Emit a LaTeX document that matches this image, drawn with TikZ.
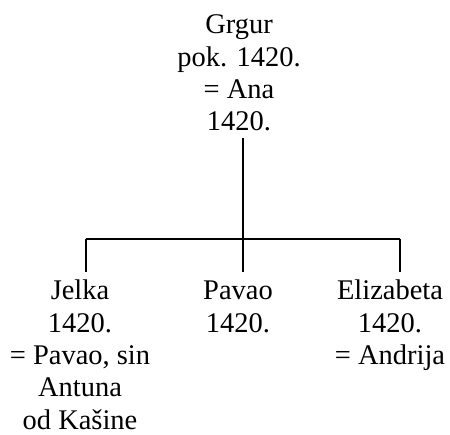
\documentclass[tikz,border=0pt]{standalone}
\usepackage{fontspec}
\setmainfont{Liberation Serif}
\usetikzlibrary{positioning}

\begin{document}
\begin{tikzpicture}[x=0.2mm, y=-0.2mm,
  every node/.style={font=\fontsize{16.2}{18.4}\selectfont, align=center, inner sep=0pt, anchor=north},
  link/.style={line width=0.75pt}]
  \useasboundingbox (0,0) rectangle (450,434);
  \node (grgur) at (239,11) {\strut Grgur\\pok. 1420.\\= Ana\\1420.};
  \coordinate (fork) at (243,239);
  \coordinate (ljoin) at (86,239);
  \coordinate (rjoin) at (400,239);
  \node (jelka) at (80,277) {\strut Jelka\\1420.\\= Pavao, sin\\Antuna\\od Kašine};
  \node (pavao) at (238,277) {\strut Pavao\\1420.};
  \node (elizabeta) at (390,277) {\strut Elizabeta\\1420.\\= Andrija};
  \draw[line width=1.1pt] (fork |- grgur.south) ++(0,6) -- (fork);
  \draw[link] (ljoin) -- (rjoin);
  \draw[link] (ljoin) -- ([yshift=3pt]ljoin |- jelka.north);
  \draw[link] (fork) -- ([yshift=3pt]fork |- pavao.north);
  \draw[link] (rjoin) -- ([yshift=3pt]rjoin |- elizabeta.north);
\end{tikzpicture}
\end{document}
